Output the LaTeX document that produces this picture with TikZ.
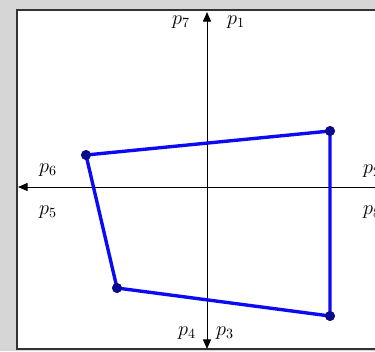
\documentclass[tikz,border=0pt]{standalone}
\usetikzlibrary{arrows.meta}
\definecolor{fondoGris}{HTML}{D6D6D6}
\definecolor{poliAzul}{HTML}{0A0AF5}
\definecolor{puntoAzul}{HTML}{0A0A8C}
\tikzset{
  marco/.style={draw=black!80, line width=1.1pt, fill=white},
  eje/.style={{Triangle[length=2.4mm,width=2mm]}-{Triangle[length=2.4mm,width=2mm]}, line width=0.7pt},
  vertice/.style={circle, fill=puntoAzul, inner sep=0pt, minimum size=7pt},
  lado/.style={poliAzul, line width=2.4pt, line join=round},
  etiqueta/.style={font=\Large, inner sep=0pt},
}
\begin{document}
\begin{tikzpicture}[x=0.025cm, y=-0.025cm]
  \fill[fondoGris] (0,0) rectangle (375,351);
  \useasboundingbox (0,0) rectangle (375,351);
  \draw[marco] (17,10) rectangle (395,349);
  % ejes
  \coordinate (ejeS) at (207,349);
  \coordinate (ejeN) at (207,12);
  \coordinate (ejeO) at (18,187);
  \coordinate (ejeE) at (396,187);
  \draw[eje] (ejeS) -- (ejeN);
  \draw[eje] (ejeE) -- (ejeO);
  % etiquetas
  \node[etiqueta] (p7) at (181,22) {$p_7$};
  \node[etiqueta] (p1) at (236,22) {$p_1$};
  \node[etiqueta] (p6) at (48,170) {$p_6$};
  \node[etiqueta] (p5) at (48,212) {$p_5$};
  \node[etiqueta] (p2) at (372,171) {$p_2$};
  \node[etiqueta] (p8) at (372,212) {$p_8$};
  \node[etiqueta] (p4) at (187,333) {$p_4$};
  \node[etiqueta] (p3) at (225,333) {$p_3$};
  % poligono
  \node[vertice] (a) at (86,155) {};
  \node[vertice] (b) at (330,131) {};
  \node[vertice] (c) at (330,316) {};
  \node[vertice] (d) at (117,288) {};
  \draw[lado] (a.center) -- (b.center) -- (c.center) -- (d.center) -- cycle;
  \foreach \v in {a,b,c,d}{\node[vertice] at (\v) {};}
\end{tikzpicture}
\end{document}
